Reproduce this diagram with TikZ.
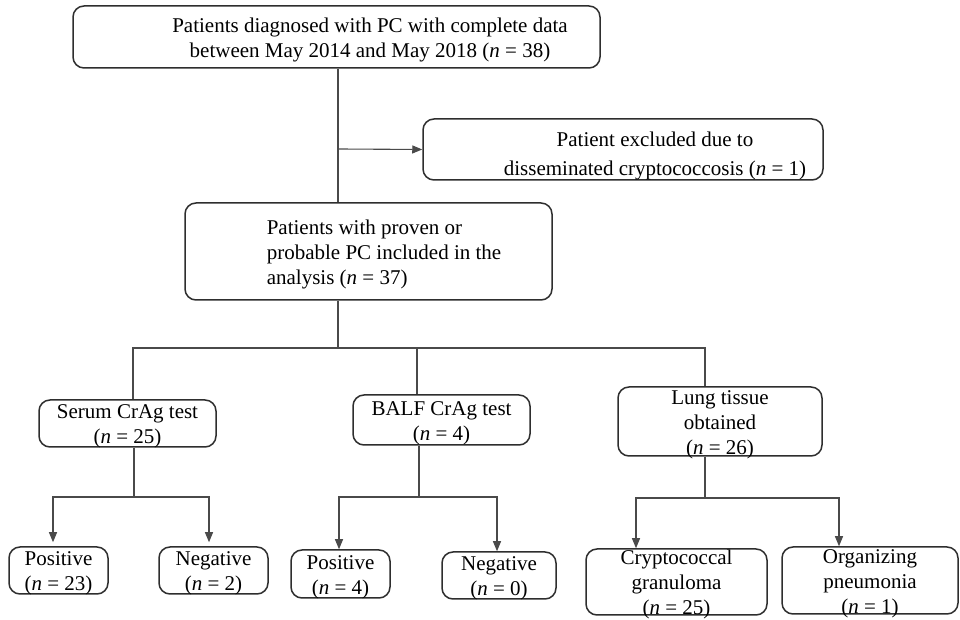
\documentclass[tikz,border=0pt]{standalone}
\usepackage{fontspec}
\setmainfont{Liberation Serif}
\usetikzlibrary{arrows.meta}
\definecolor{edge}{HTML}{2E2E2E}
\definecolor{wire}{HTML}{4A4A4A}

\begin{document}
\begin{tikzpicture}[x=1pt, y=1pt,
    box/.style = {draw=edge, line width=1.5pt, rounded corners=11pt, inner sep=0pt, text height=15.5pt, text depth=0pt, font=\fontsize{21}{25}\selectfont},
    link/.style = {draw=wire, line width=1.1pt},
    arr/.style = {link, -{Triangle[length=10pt, width=8pt]}}]
    \useasboundingbox (0,0) rectangle (960,620);
    % boxes
    \node[box, minimum width=527pt, minimum height=62pt] (diag) at (336.5,583)
        {\hspace*{67pt}\begin{tabular}{@{}c@{}}Patients diagnosed with PC with complete data\\ between May 2014 and May 2018 (\textit{n} = 38)\end{tabular}};
    \node[box, text height=22.5pt, minimum width=400pt, minimum height=61pt] (excl) at (623,470.5)
        {\hspace*{64pt}\begin{tabular}{@{}c@{}}Patient excluded due to\\[4pt] disseminated cryptococcosis (\textit{n} = 1)\end{tabular}};
    \node[box, minimum width=367pt, minimum height=97pt] (incl) at (368.5,368.5)
        {\hspace*{31pt}\begin{tabular}{@{}l@{}}Patients with proven or\\ probable PC included in the\\ analysis (\textit{n} = 37)\end{tabular}};
    \node[box, minimum width=177pt, minimum height=47pt] (serum) at (127.5,196.5)
        {\begin{tabular}{@{}c@{}}Serum CrAg test\\ (\textit{n} = 25)\end{tabular}};
    \node[box, minimum width=177pt, minimum height=50pt] (balf) at (441.5,200)
        {\begin{tabular}{@{}c@{}}BALF CrAg test\\ (\textit{n} = 4)\end{tabular}};
    \node[box, minimum width=204pt, minimum height=69pt] (lung) at (720,198.5)
        {\begin{tabular}{@{}c@{}}Lung tissue\\ obtained\\ (\textit{n} = 26)\end{tabular}};
    \node[box, minimum width=99pt, minimum height=47pt] (spos) at (58.5,49.5)
        {\begin{tabular}{@{}c@{}}Positive\\ (\textit{n} = 23)\end{tabular}};
    \node[box, minimum width=109pt, minimum height=47pt] (sneg) at (213.5,49.5)
        {\begin{tabular}{@{}c@{}}Negative\\ (\textit{n} = 2)\end{tabular}};
    \node[box, minimum width=99pt, minimum height=48pt] (bpos) at (340.5,46)
        {\begin{tabular}{@{}c@{}}Positive\\ (\textit{n} = 4)\end{tabular}};
    \node[box, minimum width=114pt, minimum height=47pt] (bneg) at (499,44.5)
        {\begin{tabular}{@{}c@{}}Negative\\ (\textit{n} = 0)\end{tabular}};
    \node[box, minimum width=181pt, minimum height=66pt] (gran) at (676.5,38)
        {\begin{tabular}{@{}c@{}}Cryptococcal\\ granuloma\\ (\textit{n} = 25)\end{tabular}};
    \node[box, minimum width=176pt, minimum height=67pt] (orgp) at (870,39.5)
        {\begin{tabular}{@{}c@{}}Organizing\\ pneumonia\\ (\textit{n} = 1)\end{tabular}};
    % branch points
    \coordinate (fork) at (338,471);
    \coordinate (split) at (338,272);
    \coordinate (sj) at (134,123);
    \coordinate (bj) at (419,123);
    \coordinate (lj) at (705,122);
    % connectors
    \draw[link] (diag.south -| fork) -- (incl.north -| fork);
    \draw[arr] (fork) -- (excl.west);
    \draw[link] (incl.south -| split) -- (split);
    \draw[link] (serum.north -| 133,0) |- (split) -| (lung.north -| lj);
    \draw[link] (split -| 417,0) -- (balf.north -| 417,0);
    \draw[link] (serum.south -| sj) -- (sj);
    \draw[arr, shorten >=4pt] (sj) -| (spos.north -| 53,0);
    \draw[arr, shorten >=4pt] (sj) -| (sneg.north -| 209,0);
    \draw[link] (balf.south -| bj) -- (bj);
    \draw[arr] (bj) -| (bpos.north -| 339,0);
    \draw[arr] (bj) -| (bneg.north -| 497,0);
    \draw[link] (lung.south -| lj) -- (lj);
    \draw[arr] (lj) -| (gran.north -| 636,0);
    \draw[arr] (lj) -| (orgp.north -| 839,0);
\end{tikzpicture}
\end{document}
